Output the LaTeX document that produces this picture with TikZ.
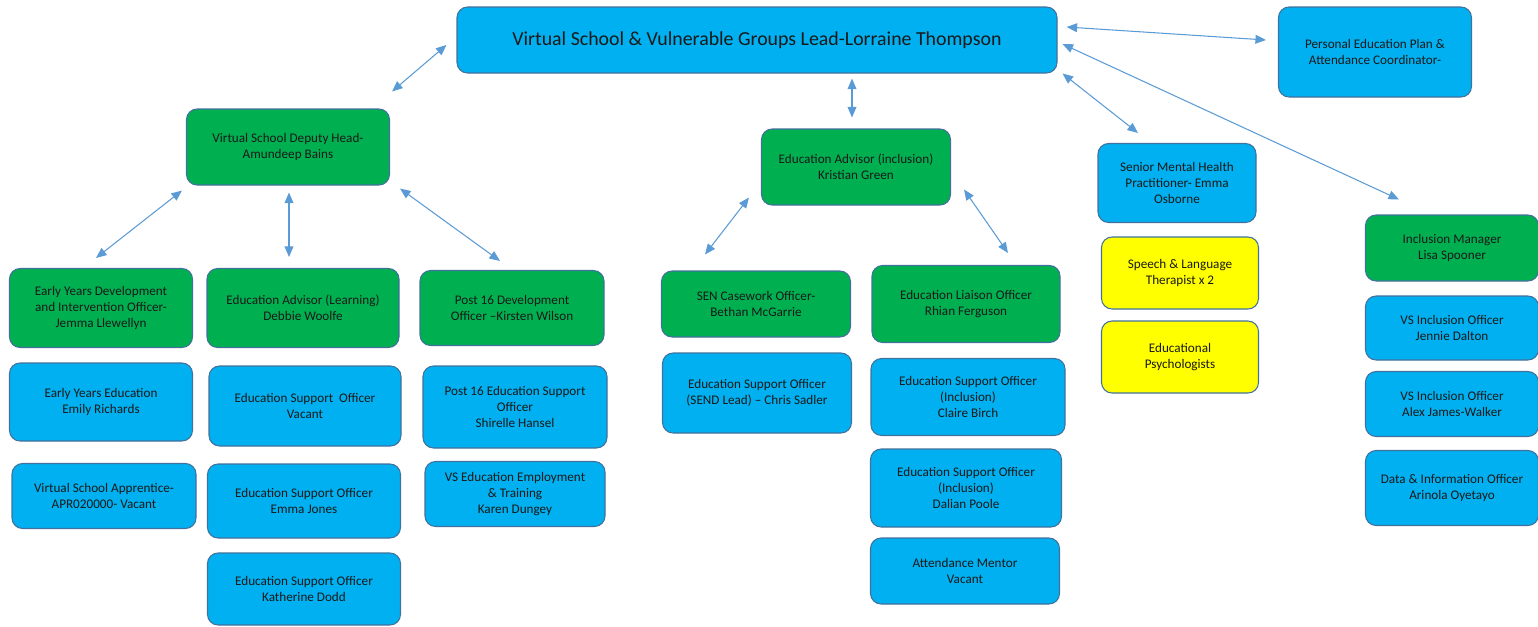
\documentclass[tikz,border=0pt]{standalone}
\usepackage{fontspec}
\setmainfont{Carlito}
\usepackage{xcolor}
\definecolor{staffblue}{RGB}{0,176,240}
\definecolor{leadgreen}{RGB}{0,176,80}
\definecolor{therapyyellow}{RGB}{255,255,0}
\definecolor{edgeblue}{RGB}{65,113,156}
\definecolor{linkblue}{RGB}{91,155,213}
\usepackage{tikz}
\usetikzlibrary{calc}
\usetikzlibrary{arrows.meta}
\newcommand{\boxfont}{\fontsize{7.5}{9.1}\selectfont}
\tikzset{
    common/.style={draw=edgeblue, line width=0.6pt, rounded corners=6pt, align=center,
        text=black!90, font=\boxfont, inner sep=2pt},
    dims/.style 2 args={minimum width=#1*0.02cm, minimum height=#2*0.02cm},
    staff/.style={common, fill=staffblue},
    lead/.style={common, fill=leadgreen},
    therapy/.style={common, fill=therapyyellow},
    link/.style={linkblue, line width=0.6pt, {Triangle[width=5pt,length=6pt]}-{Triangle[width=5pt,length=6pt]}}
}

\begin{document}
\begin{tikzpicture}[x=0.02cm, y=-0.02cm]
          \useasboundingbox (0,0) rectangle (1538,626);

          % top row
          \node[staff, dims={600}{66}, font=\fontsize{11.3}{13}\selectfont] (lead-top) at (757,40)
            {Virtual School \& Vulnerable Groups Lead-Lorraine Thompson};
          \node[staff, dims={193}{90}] (pep) at (1375,52) {Personal Education Plan \&\\Attendance Coordinator-};

          % second row
          \node[lead, dims={203}{76}] (deputy) at (288,147) {Virtual School Deputy Head-\\Amundeep Bains};
          \node[lead, dims={189}{76}] (ea-inclusion) at (856,167) {Education Advisor (inclusion)\\Kristian Green};
          \node[staff, dims={158}{79}] (mental-health) at (1177,183) {Senior Mental Health\\Practitioner- Emma\\Osborne};
          \node[therapy, dims={157}{72}] (speech) at (1180,273) {Speech \& Language\\Therapist x 2};
          \node[therapy, dims={157}{72}] (psych) at (1180,357) {Educational\\Psychologists};

          % deputy head team
          \node[lead, dims={183}{79}] (early-dev) at (101,308) {Early Years Development\\and Intervention Officer-\\Jemma Llewellyn};
          \node[staff, dims={183}{78}] (early-edu) at (101,402) {Early Years Education\\Emily Richards};
          \node[staff, dims={184}{65}] (apprentice) at (104,496) {Virtual School Apprentice-\\APR020000- Vacant};
          \node[lead, dims={192}{79}] (ea-learning) at (303,308) {Education Advisor (Learning)\\Debbie Woolfe};
          \node[staff, dims={192}{80}] (eso-vacant) at (305,406) {Education Support\ \ Officer\\Vacant};
          \node[staff, dims={193}{74}] (eso-jones) at (304,501) {Education Support Officer\\Emma Jones};
          \node[staff, dims={193}{72}] (eso-dodd) at (304,589) {Education Support Officer\\Katherine Dodd};
          \node[lead, dims={184}{75}] (post16-dev) at (512,308) {Post 16 Development\\Officer --Kirsten Wilson};
          \node[staff, dims={184}{82}] (post16-eso) at (515,407) {Post 16 Education Support\\Officer\\Shirelle Hansel};
          \node[staff, dims={180}{65}] (vs-eet) at (515,494) {VS Education Employment\\\& Training\\Karen Dungey};

          % education advisor (inclusion) team
          \node[lead, dims={189}{66}] (sen-casework) at (756,304) {SEN Casework Officer-\\Bethan McGarrie};
          \node[staff, dims={189}{80}] (eso-send) at (757,393) {Education Support Officer\\(SEND Lead) -- Chris Sadler};
          \node[lead, dims={188}{77}] (liaison) at (966,304) {Education Liaison Officer\\Rhian Ferguson};
          \node[staff, dims={194}{77}] (eso-birch) at (968,397) {Education Support Officer\\(Inclusion)\\Claire Birch};
          \node[staff, dims={191}{78}] (eso-poole) at (966,488) {Education Support Officer\\(Inclusion)\\Dalian Poole};
          \node[staff, dims={189}{66}] (mentor) at (965,571) {Attendance Mentor\\Vacant};

          % inclusion manager team
          \node[lead, dims={173}{66}] (incl-manager) at (1452,248) {Inclusion Manager\\Lisa Spooner};
          \node[staff, dims={173}{64}] (incl-dalton) at (1452,328) {VS Inclusion Officer\\Jennie Dalton};
          \node[staff, dims={173}{65}] (incl-walker) at (1452,404) {VS Inclusion Officer\\Alex James-Walker};
          \node[staff, dims={173}{75}] (data-officer) at (1452,488) {Data \& Information Officer\\Arinola Oyetayo};

          \draw[link] ($(lead-top.west)+(-10,5)$) -- ($(deputy.north east)+(2,-17)$);
          \draw[link] ($(lead-top.south)+(95,5)$) -- ($(ea-inclusion.north)+(-4,-11)$);
          \draw[link] ($(lead-top.east)+(9,-13)$) -- ($(pep.west)+(-12,-12)$);
          \draw[link] ($(lead-top.south east)+(5,0)$) -- ($(mental-health.north)+(-39,-10)$);
          \draw[link] ($(lead-top.east)+(5,4)$) -- ($(incl-manager.north)+(-53,-15)$);
          \draw[link] ($(deputy.south west)+(-4,5)$) -- ($(early-dev.north)+(-5,-10)$);
          \draw[link] ($(deputy.south)+(1,7)$) -- ($(ea-learning.north)+(-14,-11)$);
          \draw[link] ($(deputy.south east)+(10,3)$) -- ($(post16-dev.north)+(-12,-9)$);
          \draw[link] ($(ea-inclusion.south west)+(-12,-8)$) -- ($(sen-casework.north)+(-51,-16)$);
          \draw[link] ($(ea-inclusion.south east)+(13,-16)$) -- ($(liaison.north)+(42,-12)$);
        \end{tikzpicture}
\end{document}
